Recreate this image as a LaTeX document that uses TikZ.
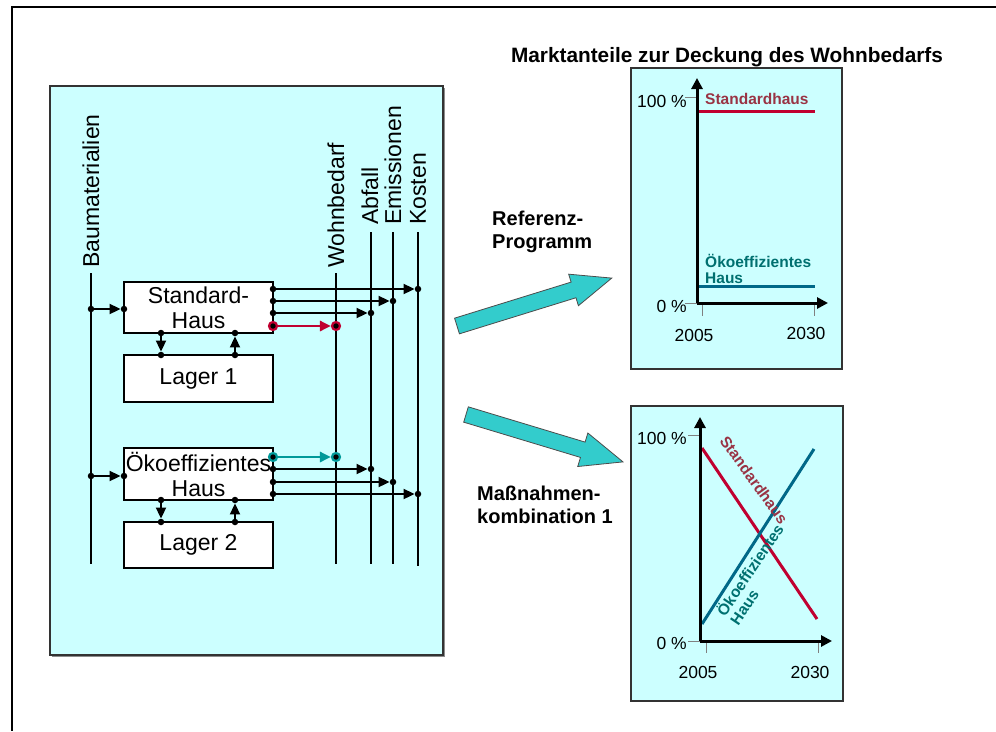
\documentclass[tikz,border=0pt]{standalone}
\usepackage{fontspec}
\setmainfont{Liberation Sans}
\usetikzlibrary{arrows.meta}
\definecolor{panel}{HTML}{CCFFFF}
\definecolor{blockarrow}{HTML}{33CCCC}
\definecolor{myred}{HTML}{C00030}
\definecolor{redtext}{HTML}{993344}
\definecolor{myblue}{HTML}{006888}
\definecolor{tealtext}{HTML}{007070}
\definecolor{tealflow}{HTML}{009999}
\tikzset{
  lbl/.style={font=\fontsize{23}{25}\selectfont, inner sep=0pt},
  vlbl/.style={lbl, rotate=90, anchor=west},
  housebox/.style={draw, line width=1.5pt, fill=white, minimum width=149pt, inner sep=0pt, align=center, font=\fontsize{23}{25}\selectfont},
  flow/.style={line width=2pt, -{Triangle[length=11pt,width=10pt]}},
  vline/.style={line width=2pt},
  dot/.style={circle, fill=black, inner sep=0pt, minimum size=6.5pt},
  rdot/.style={circle, draw=myred, fill=black, line width=2.2pt, inner sep=0pt, minimum size=8pt},
  tdot/.style={circle, draw=tealflow, fill=black, line width=2.2pt, inner sep=0pt, minimum size=8pt},
  axis/.style={line width=3pt, -{Triangle[length=11pt,width=11pt]}},
  tick/.style={line width=1pt, draw=gray},
  axlbl/.style={font=\fontsize{17.5}{19}\selectfont, inner sep=0pt},
  serlbl/.style={font=\bfseries\fontsize{15.5}{16}\selectfont, inner sep=0pt, align=left},
  boldlbl/.style={font=\bfseries\fontsize{20}{23}\selectfont, inner sep=0pt, align=left},
  chartbox/.style={draw=black!80, line width=1.2pt, fill=panel},
  bigarrow/.style={draw=black!70, line width=0.8pt, fill=blockarrow},
}
\begin{document}
\begin{tikzpicture}[x=1pt,y=-1pt]
\useasboundingbox (0,0) rectangle (996,731);
% frame
\draw[line width=2.5pt] (996,7) -- (12,7) -- (12,731);

% left panel
\fill[black!45] (52,88) rectangle (445,657);
\draw[chartbox] (50,86) rectangle (443,655);

% vertical lines and labels
\node[vlbl] (bmlab) at (91,268) {Baumaterialien};
\node[vlbl] (wblab) at (336,268) {Wohnbedarf};
\node[vlbl] (ablab) at (370,225) {Abfall};
\node[vlbl] (emlab) at (393,225) {Emissionen};
\node[vlbl] (kolab) at (418,225) {Kosten};
\coordinate (bmT) at (91,273);  \coordinate (bmB) at (91,564);
\coordinate (wbT) at (336,273); \coordinate (wbB) at (336,564);
\coordinate (abT) at (371,232); \coordinate (abB) at (371,564);
\coordinate (emT) at (393,232); \coordinate (emB) at (393,564);
\coordinate (koT) at (418,232); \coordinate (koB) at (418,566);
\draw[vline] (bmT) -- (bmB);
\draw[vline] (wbT) -- (wbB);
\draw[vline] (abT) -- (abB);
\draw[vline] (emT) -- (emB);
\draw[vline] (koT) -- (koB);

% boxes
\node[housebox, minimum height=51pt] (sh) at (198.5,307.5) {Standard-\\Haus};
\node[housebox, minimum height=47pt] (l1) at (198.5,378.5) {Lager 1};
\node[housebox, minimum height=52pt] (oh) at (198.5,474) {Ökoeffizientes\\Haus};
\node[housebox, minimum height=46pt] (l2) at (198.5,545) {Lager 2};

% Standard-Haus flows
\node[dot] (s0a) at (91,309) {};  \node[dot] (s0b) at (124,309) {};
\draw[flow] (s0a) -- (s0b);
\node[dot] (s1a) at (273,289) {}; \node[dot] (s1b) at (418,289) {};
\draw[flow] (s1a) -- (s1b);
\node[dot] (s2a) at (273,301) {}; \node[dot] (s2b) at (393,301) {};
\draw[flow] (s2a) -- (s2b);
\node[dot] (s3a) at (273,313) {}; \node[dot] (s3b) at (371,313) {};
\draw[flow] (s3a) -- (s3b);
\node[rdot] (s4a) at (273,326) {}; \node[rdot] (s4b) at (336,326) {};
\draw[flow, myred, line width=2.8pt] (s4a) -- (s4b);
\node[dot] (d1a) at (161,333) {}; \node[dot] (d1b) at (161,355) {};
\draw[flow] (d1a) -- (d1b);
\node[dot] (u1a) at (235,355) {}; \node[dot] (u1b) at (235,333) {};
\draw[flow] (u1a) -- (u1b);

% Oekoeffizientes Haus flows
\node[dot] (o0a) at (91,476) {};  \node[dot] (o0b) at (124,476) {};
\draw[flow] (o0a) -- (o0b);
\node[tdot] (o1a) at (273,457) {}; \node[tdot] (o1b) at (336,457) {};
\draw[flow, tealflow, line width=2.8pt] (o1a) -- (o1b);
\node[dot] (o2a) at (273,469) {}; \node[dot] (o2b) at (371,469) {};
\draw[flow] (o2a) -- (o2b);
\node[dot] (o3a) at (273,482) {}; \node[dot] (o3b) at (393,482) {};
\draw[flow] (o3a) -- (o3b);
\node[dot] (o4a) at (273,494) {}; \node[dot] (o4b) at (418,494) {};
\draw[flow] (o4a) -- (o4b);
\node[dot] (d2a) at (161,500) {}; \node[dot] (d2b) at (161,522) {};
\draw[flow] (d2a) -- (d2b);
\node[dot] (u2a) at (235,522) {}; \node[dot] (u2b) at (235,500) {};
\draw[flow] (u2a) -- (u2b);

% title
\node[font=\bfseries\fontsize{20.8}{23}\selectfont, inner sep=0pt] (title) at (727,57) {Marktanteile zur Deckung des Wohnbedarfs};

% big arrows
\begin{scope}[shift={(457,326)}, rotate=17.2]
\draw[bigarrow] (0,-8.2) -- (122,-8.2) -- (122,-16.5) -- (162,0) -- (122,16.5) -- (122,8.2) -- (0,8.2) -- cycle;
\end{scope}
\begin{scope}[shift={(466,414.5)}, rotate=-16.8]
\draw[bigarrow] (0,-8) -- (122,-8) -- (122,-17.5) -- (164,0) -- (122,17.5) -- (122,8) -- (0,8) -- cycle;
\end{scope}
\node[boldlbl, anchor=west] (ref) at (492,231.5) {Referenz-\\Programm};
\node[boldlbl, anchor=west] (mass) at (477,504.5) {Maßnahmen-\\kombination 1};

% top chart
\draw[chartbox] (631,68) rectangle (842,369);
\coordinate (t0) at (697,303);
\coordinate (tY) at (697,78);
\coordinate (tX) at (828,303);
\draw[tick] (685,97) -- (697,97);
\draw[tick] (685,303) -- (697,303);
\draw[tick] (702,303) -- (702,316);
\draw[tick] (814,303) -- (814,316);
\draw[line width=3pt, myred] (697,111) -- (815,111);
\draw[line width=3pt, myblue] (697,286) -- (815,286);
\draw[axis] (t0) -- (tY);
\draw[axis] (t0) -- (tX);
\node[axlbl, anchor=east] (t100) at (687,101) {100 \%};
\node[axlbl, anchor=east] (t0l) at (687,306) {0 \%};
\node[axlbl] (t2005) at (694,335) {2005};
\node[axlbl] (t2030) at (806,333) {2030};
\node[serlbl, redtext, anchor=west] (tstd) at (705,99) {Standardhaus};
\node[serlbl, tealtext, anchor=west] (toko) at (705,269) {Ökoeffizientes\\Haus};

% bottom chart
\draw[chartbox] (631,406) rectangle (843,701);
\coordinate (b0) at (700,641);
\coordinate (bY) at (700,417);
\coordinate (bX) at (832,641);
\draw[tick] (688,435) -- (700,435);
\draw[tick] (688,641) -- (700,641);
\draw[tick] (706,641) -- (706,653);
\draw[tick] (818,641) -- (818,653);
\draw[line width=3pt, myred] (702,448) -- (817,619);
\draw[line width=3pt, myblue] (702,624) -- (814,449);
\draw[axis] (b0) -- (bY);
\draw[axis] (b0) -- (bX);
\node[axlbl, anchor=east] (b100) at (687,438) {100 \%};
\node[axlbl, anchor=east] (b0l) at (687,643) {0 \%};
\node[axlbl] (b2005) at (698,672) {2005};
\node[axlbl] (b2030) at (810,672) {2030};
\node[serlbl, redtext, rotate=-54] (bstd) at (754,480) {Standardhaus};
\node[serlbl, tealtext, rotate=56] (boko) at (756,574) {Ökoeffizientes\\Haus};
\end{tikzpicture}
\end{document}
